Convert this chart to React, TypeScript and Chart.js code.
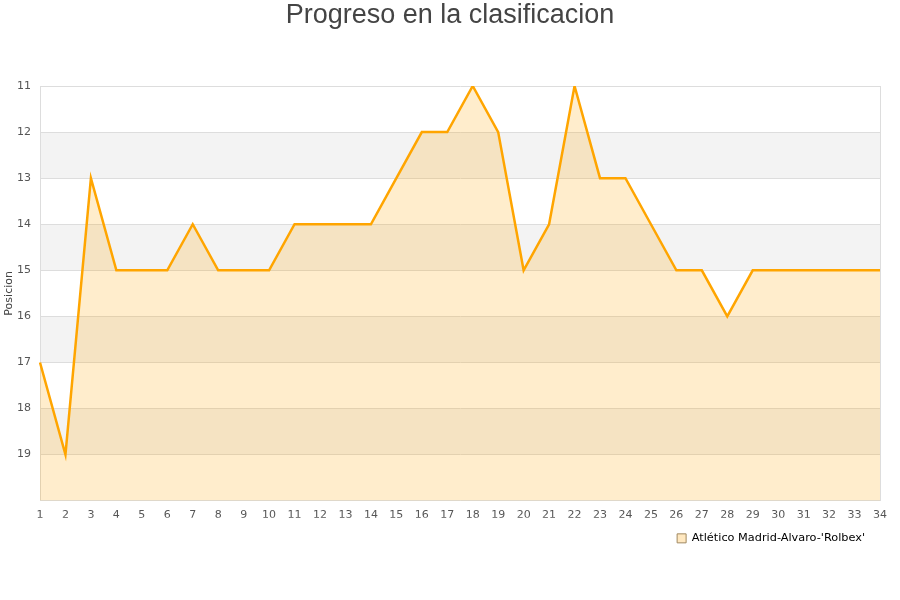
import React, { useEffect, useRef } from "react";
import { Chart, registerables } from "chart.js";

Chart.register(...registerables);

const jornadas: string[] = [
  "1","2","3","4","5","6","7","8","9","10","11","12","13","14","15","16","17",
  "18","19","20","21","22","23","24","25","26","27","28","29","30","31","32","33","34",
];
const posiciones: number[] = [
  17, 19, 13, 15, 15, 15, 14, 15, 15, 15, 14, 14, 14, 14, 13, 12, 12,
  11, 12, 15, 14, 11, 13, 13, 14, 15, 15, 16, 15, 15, 15, 15, 15, 15,
];
const equipo = "Atlético Madrid-Alvaro-'Rolbex'";
const tituloGrafico = "Progreso en la clasificacion";
const tituloEjeY = "Posicion";
const yMin = 11;
const yMax = 20;
const bandasGrises: number[][] = [
  [12, 13],
  [14, 15],
  [16, 17],
  [18, 19],
];

const bandPlugin = {
  id: "bands",
  beforeDraw(chart: any) {
    const { ctx, chartArea, scales } = chart;
    const y = scales.y;
    ctx.save();
    ctx.fillStyle = "#F3F3F3";
    for (const [a, b] of bandasGrises) {
      const p1 = y.getPixelForValue(a);
      const p2 = y.getPixelForValue(b);
      ctx.fillRect(chartArea.left, Math.min(p1, p2), chartArea.right - chartArea.left, Math.abs(p2 - p1));
    }
    ctx.restore();
  },
};

const titlePlugin = {
  id: "pageTitle",
  afterDraw(chart: any) {
    const ctx = chart.ctx;
    ctx.save();
    ctx.font = "27px 'Liberation Sans', Arial, sans-serif";
    ctx.fillStyle = "#444444";
    ctx.textAlign = "center";
    ctx.textBaseline = "middle";
    ctx.fillText(tituloGrafico, chart.width / 2, 16);
    ctx.restore();
  },
};

export default function App() {
  const ref = useRef<HTMLCanvasElement | null>(null);
  useEffect(() => {
    if (!ref.current) return;
    const chart = new Chart(ref.current, {
      type: "line",
      data: {
        labels: jornadas,
        datasets: [
          {
            label: equipo,
            data: posiciones,
            borderColor: "#FFA500",
            backgroundColor: "rgba(255,165,0,0.2)",
            borderWidth: 2.5,
            pointRadius: 0,
            tension: 0,
            fill: { value: yMax },
          },
        ],
      },
      options: {
        animation: false,
        responsive: false,
        maintainAspectRatio: false,
        layout: { padding: { left: 0, right: 20, top: 86, bottom: 46 } },
        plugins: {
          title: { display: false },
          legend: {
            position: "bottom",
            align: "end",
            labels: {
              boxWidth: 9,
              boxHeight: 9,
              padding: 15,
              color: "#222222",
              font: { family: "'DejaVu Sans', sans-serif", size: 11.3 },
              generateLabels: () => [
                {
                  text: equipo,
                  fillStyle: "#FFE8C0",
                  strokeStyle: "#A08860",
                  lineWidth: 1,
                  hidden: false,
                  datasetIndex: 0,
                },
              ],
            },
          },
          tooltip: { enabled: false },
        },
        scales: {
          x: {
            offset: false,
            afterFit: (s: any) => {
              s.height = 17;
            },
            grid: { display: false, drawTicks: false },
            border: { display: true, color: "#DDDDDD" },
            ticks: {
              color: "#555555",
              font: { family: "'DejaVu Sans', sans-serif", size: 11 },
              padding: 8,
              maxRotation: 0,
              autoSkip: false,
            },
          },
          y: {
            reverse: true,
            min: yMin,
            max: yMax,
            afterFit: (s: any) => {
              s.width = 40;
            },
            grid: { color: "#DDDDDD", drawTicks: false },
            border: { display: true, color: "#DDDDDD" },
            title: {
              display: true,
              text: tituloEjeY,
              color: "#444444",
              font: { family: "'DejaVu Sans', sans-serif", size: 11 },
              padding: { top: 3, bottom: 0 },
            },
            ticks: {
              stepSize: 1,
              color: "#555555",
              font: { family: "'DejaVu Sans', sans-serif", size: 11 },
              padding: 9,
              callback: (v: any) => (Number(v) === yMax ? "" : String(v)),
            },
          },
          y2: {
            position: "right",
            display: true,
            afterFit: (s: any) => {
              s.width = 0;
            },
            grid: { display: false, drawTicks: false },
            border: { display: true, color: "#DDDDDD" },
            ticks: { display: false },
          },
        },
      },
      plugins: [bandPlugin, titlePlugin],
    } as any);
    return () => chart.destroy();
  }, []);
  return (
    <div style={{ position: "fixed", left: 0, top: 0, width: 900, height: 600, background: "#fff" }}>
      <canvas ref={ref} width={900} height={600} style={{ width: 900, height: 600 }} />
    </div>
  );
}
